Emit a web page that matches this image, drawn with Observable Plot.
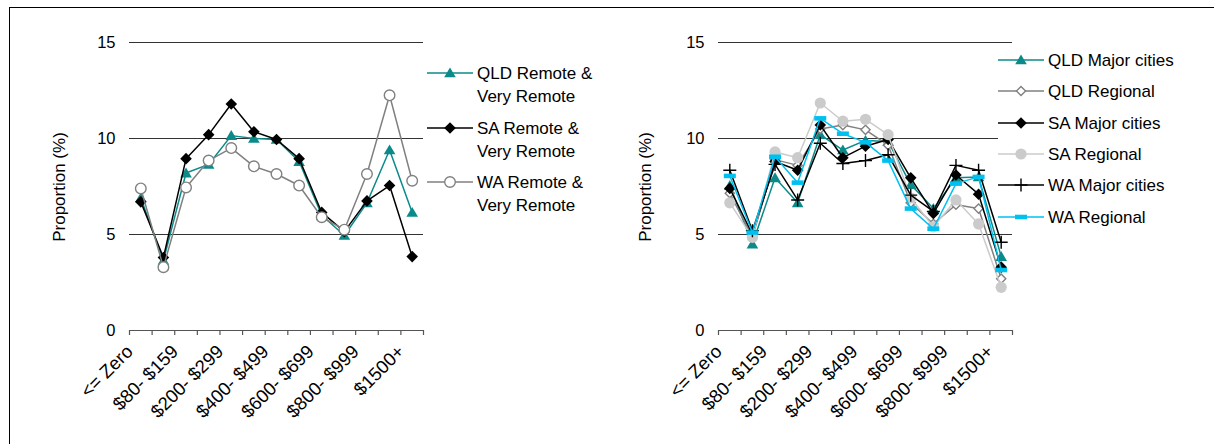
<!DOCTYPE html>
<html>
<head>
<meta charset="utf-8">
<script src="https://cdn.jsdelivr.net/npm/d3@7"></script>
<script src="https://cdn.jsdelivr.net/npm/@observablehq/plot@0.6"></script>
<style>
  html, body { margin: 0; padding: 0; background: #fff; }
  body { width: 1214px; height: 444px; position: relative; overflow: hidden; font-family: "Liberation Sans", Arial, sans-serif; color: #000; }
  #frame { position: absolute; left: 9px; top: 7px; width: 1400px; height: 600px; border-top: 1.5px solid #000; border-left: 1.5px solid #000; }
  .panel { position: absolute; top: 0; }
  .ylabel { position: absolute; font-size: 17px; white-space: nowrap; transform: translate(-50%, -50%) rotate(-90deg); }
  .legend { position: absolute; background: #fff; font-size: 17px; }
  .item { position: absolute; display: flex; align-items: flex-start; white-space: nowrap; }
  .item svg { flex: none; }
  .item .txt { line-height: 23px; margin-left: 4px; }
</style>
</head>
<body>
<div id="frame"></div>
<div id="left" class="panel" style="left:0px"></div>
<div id="right" class="panel" style="left:600px"></div>
<script>
// ---- data ----
const categories = ["<= Zero", "$1- $79", "$80- $159", "$160- $199", "$200- $299", "$300- $399", "$400- $499", "$500- $599", "$600- $699", "$700- $799", "$800- $999", "$1000- $1499", "$1500+"];
const yTicks = [0, 5, 10, 15];
const yLabel = "Proportion (%)";

// left panel series
const leftNames = ["QLD Remote & Very Remote", "SA Remote & Very Remote", "WA Remote & Very Remote"];
const qldRemote = [6.9, 3.65, 8.2, 8.65, 10.15, 10.0, 9.95, 8.8, 6.0, 4.95, 6.65, 9.4, 6.15];
const saRemote  = [6.7, 3.8, 8.95, 10.2, 11.8, 10.35, 9.95, 8.95, 6.15, 5.15, 6.75, 7.55, 3.85];
const waRemote  = [7.4, 3.3, 7.45, 8.85, 9.5, 8.55, 8.15, 7.55, 5.9, 5.25, 8.15, 12.25, 7.8];

// right panel series
const rightNames = ["QLD Major cities", "QLD Regional", "SA Major cities", "SA Regional", "WA Major cities", "WA Regional"];
const qldMajor    = [7.55, 4.5, 7.95, 6.65, 10.2, 9.4, 9.9, 9.85, 7.6, 6.35, 7.95, 8.0, 3.85];
const qldRegional = [7.15, 4.85, 8.9, 8.6, 10.5, 10.7, 10.45, 9.65, 6.65, 5.55, 6.55, 6.35, 2.7];
const saMajor     = [7.4, 5.0, 8.8, 8.35, 10.7, 9.0, 9.6, 9.95, 7.95, 6.1, 8.1, 7.1, 3.3];
const saRegional  = [6.65, 4.85, 9.3, 9.0, 11.85, 10.9, 11.0, 10.2, 6.9, 5.4, 6.8, 5.55, 2.25];
const waMajor     = [8.35, 5.2, 8.65, 6.8, 9.75, 8.7, 8.85, 9.15, 7.05, 6.2, 8.6, 8.35, 4.6];
const waRegional  = [8.05, 5.1, 9.05, 7.7, 11.05, 10.25, 9.8, 8.85, 6.35, 5.3, 7.65, 8.0, 3.15];

// ---- symbols (size -> half-width r = sqrt(size/pi)) ----
const R = s => Math.sqrt(s / Math.PI);
const symTri = { draw(c, s) { const r = R(s); c.moveTo(0, -r * 0.95); c.lineTo(r, r * 0.75); c.lineTo(-r, r * 0.75); c.closePath(); } };
const symDia = { draw(c, s) { const r = R(s); c.moveTo(0, -r); c.lineTo(r, 0); c.lineTo(0, r); c.lineTo(-r, 0); c.closePath(); } };
const symCirc = { draw(c, s) { const r = R(s); c.moveTo(r, 0); c.arc(0, 0, r, 0, 2 * Math.PI); } };
const symPlus = { draw(c, s) { const r = R(s); c.moveTo(-r, 0); c.lineTo(r, 0); c.moveTo(0, -r); c.lineTo(0, r); } };
const symDash = { draw(c, s) { const r = R(s); c.rect(-r, -r * 0.38, 2 * r, r * 0.76); } };

const TEAL = "#0b8a8a", GREY = "#808080", LIGHT = "#cbcbcb", CYAN = "#00c0f0";

const leftSeries = [
  { name: leftNames[0], values: qldRemote, color: TEAL, sym: symTri, r: 5.8, fill: TEAL, mstroke: "none" },
  { name: leftNames[1], values: saRemote, color: "#000", sym: symDia, r: 5.8, fill: "#000", mstroke: "none" },
  { name: leftNames[2], values: waRemote, color: GREY, sym: symCirc, r: 5.3, fill: "#fff", mstroke: GREY }
];
const rightSeries = [
  { name: rightNames[0], values: qldMajor, color: TEAL, sym: symTri, r: 5.8, fill: TEAL, mstroke: "none" },
  { name: rightNames[1], values: qldRegional, color: GREY, sym: symDia, r: 4.6, fill: "#fff", mstroke: GREY },
  { name: rightNames[2], values: saMajor, color: "#000", sym: symDia, r: 5.8, fill: "#000", mstroke: "none" },
  { name: rightNames[3], values: saRegional, color: LIGHT, sym: symCirc, r: 5.6, fill: LIGHT, mstroke: "none" },
  { name: rightNames[4], values: waMajor, color: "#000", sym: symPlus, r: 6.5, fill: "none", mstroke: "#000" },
  { name: rightNames[5], values: waRegional, color: CYAN, sym: symDash, r: 6, fill: CYAN, mstroke: "none" }
];

const FS = 16.5;
const FSX = 18.5;

function chart(series, marginLeft, width) {
  const n = categories.length;
  const idx = d3.range(n);
  const marks = [
    Plot.ruleY(yTicks.filter(t => t > 0), { stroke: "#333", strokeWidth: 1, strokeOpacity: 1 }),
    Plot.ruleY([0], { stroke: "#555", strokeWidth: 1.2 }),
    Plot.axisX(d3.range(n + 1).map(i => i - 0.5), { tickSize: 5, tickFormat: () => "", stroke: "#555", strokeWidth: 1.2 }),
    Plot.axisX(idx.filter(i => i % 2 === 0), { tickSize: 0, tickPadding: 18, dx: -11, tickFormat: i => categories[i], tickRotate: -45, label: null, fill: "#000", fontSize: FSX }),
    Plot.axisY(yTicks, { tickSize: 0, tickPadding: 14, label: null, fill: "#000", fontSize: FS })
  ];
  for (const s of series) {
    marks.push(Plot.line(idx, { x: i => i, y: i => s.values[i], stroke: s.color, strokeWidth: 1.5 }));
    marks.push(Plot.dot(idx, { x: i => i, y: i => s.values[i], symbol: s.sym, r: s.r, fill: s.fill, stroke: s.mstroke, strokeWidth: 1.4 }));
  }
  return Plot.plot({
    width: width,
    height: 444,
    marginLeft: marginLeft,
    marginRight: width - marginLeft - 294,
    marginTop: 42,
    marginBottom: 114,
    x: { domain: [-0.5, n - 0.5] },
    y: { domain: [0, 15] },
    style: { fontFamily: "Liberation Sans, Arial, sans-serif", fontSize: FS + "px", background: "transparent", overflow: "visible" },
    marks
  });
}

function legend(series, left, top, gap, width, height) {
  const box = document.createElement("div");
  box.className = "legend";
  box.style.left = left + "px";
  box.style.top = top + "px";
  box.style.width = width + "px";
  box.style.height = height + "px";
  series.forEach((s, k) => {
    const it = document.createElement("div");
    it.className = "item";
    it.style.left = "0px";
    it.style.top = (k * gap) + "px";
    const svg = d3.create("svg").attr("width", 46).attr("height", 16).style("overflow", "visible");
    svg.append("line").attr("x1", 0).attr("x2", 46).attr("y1", 8).attr("y2", 8).attr("stroke", s.color).attr("stroke-width", 1.6);
    svg.append("path").attr("transform", "translate(23,8)")
      .attr("d", d3.symbol(s.sym, s.r * s.r * Math.PI)())
      .attr("fill", s.fill).attr("stroke", s.mstroke).attr("stroke-width", 1.4);
    it.appendChild(svg.node());
    const t = document.createElement("div");
    t.className = "txt";
    t.style.marginTop = "-3px";
    const parts = s.name.split(" & ");
    if (parts.length > 1) {
      t.appendChild(document.createTextNode(parts[0] + " &"));
      t.appendChild(document.createElement("br"));
      t.appendChild(document.createTextNode(parts[1]));
    } else {
      t.textContent = s.name;
    }
    it.appendChild(t);
    box.appendChild(it);
  });
  document.body.appendChild(box);
}

document.getElementById("left").appendChild(chart(leftSeries, 129, 440));
document.getElementById("right").appendChild(chart(rightSeries, 118, 430));

// y labels
for (const x of [60, 646]) {
  const d = document.createElement("div");
  d.className = "ylabel";
  d.style.left = x + "px";
  d.style.top = "187px";
  d.textContent = yLabel;
  document.body.appendChild(d);
}

legend(leftSeries, 427, 65, 54.5, 190, 160);
legend(rightSeries, 998, 52, 31.3, 200, 176);
</script>
</body>
</html>
